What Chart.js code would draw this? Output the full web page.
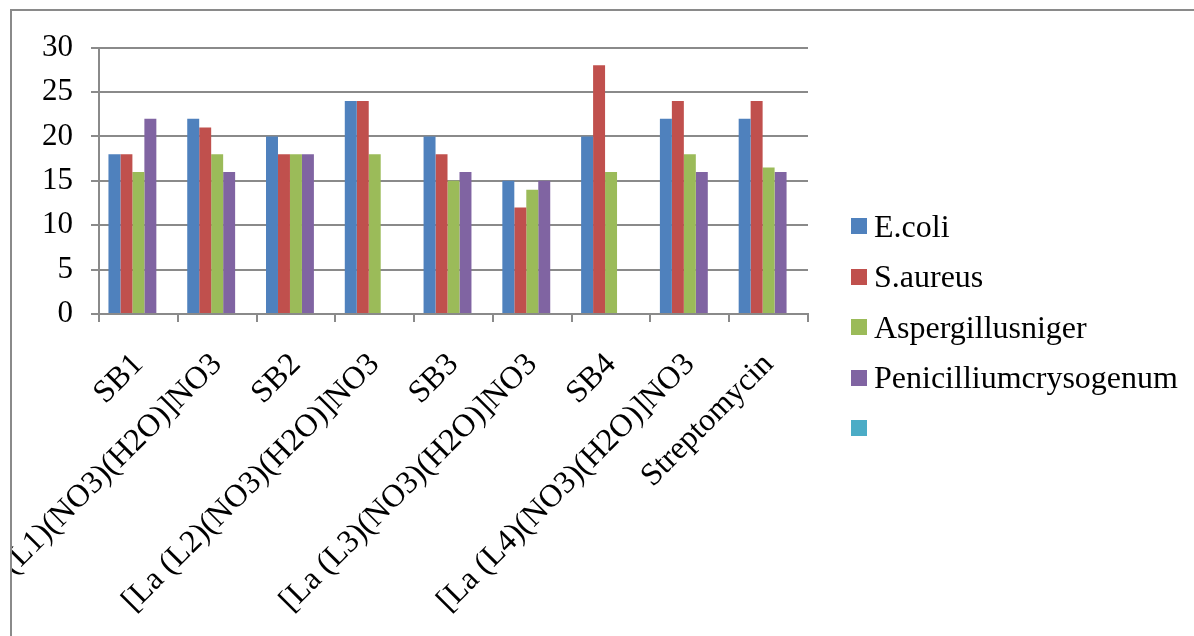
<!DOCTYPE html>
<html>
<head>
<meta charset="utf-8">
<script src="https://cdn.jsdelivr.net/npm/chart.js@4.4.1/dist/chart.umd.min.js"></script>
<style>
  html, body { margin: 0; background: #fff; overflow: hidden; }
  #frame { position: absolute; left: 10px; top: 9px; width: 1200px; height: 640px;
           border-top: 2px solid #8a8a8a; border-left: 2px solid #8a8a8a; }
  #wrap { position: absolute; left: 12px; top: 11px; width: 1182px; height: 625px; }
  #legend { position: absolute; left: 851px; top: 201px; margin: 0; padding: 0; list-style: none;
            font-family: 'Liberation Serif', 'Times New Roman', serif; font-size: 32px; color: #000; }
  #legend li { display: flex; align-items: center; height: 50.5px; white-space: nowrap; }
  #legend .box { width: 16px; height: 16px; margin-right: 7px; flex: none; }
</style>
</head>
<body>
<div id="frame"></div>
<div id="wrap"><canvas id="chart"></canvas></div>
<ul id="legend"></ul>
<script>
const categories = [
  "SB1", "[La (L1)(NO3)(H2O)]NO3", "SB2", "[La (L2)(NO3)(H2O)]NO3",
  "SB3", "[La (L3)(NO3)(H2O)]NO3", "SB4", "[La (L4)(NO3)(H2O)]NO3", "Streptomycin"
];
const ecoli       = [18, 22, 20, 24, 20, 15, 20, 22, 22];
const saureus     = [18, 21, 18, 24, 18, 12, 28, 24, 24];
const aspergillus = [16, 18, 18, 18, 15, 14, 16, 18, 16.5];
const penicillium = [22, 16, 18, null, 16, 15, null, 16, 16];
const blankSeries = [null, null, null, null, null, null, null, null, null];
const seriesNames = ["E.coli", "S.aureus", "Aspergillusniger", "Penicilliumcrysogenum", ""];
const yTicks = [0, 5, 10, 15, 20, 25, 30];

const colors = ["#4f81bd", "#c0504d", "#9bbb59", "#8064a2", "#4bacc6"];
const gridGrey = "#8a8a8a";

Chart.defaults.font.family = "'Liberation Serif', 'Times New Roman', serif";
Chart.defaults.color = "#000";

const seriesData = [ecoli, saureus, aspergillus, penicillium, blankSeries];
const datasets = seriesData.map((data, i) => ({
  label: seriesNames[i],
  data,
  backgroundColor: colors[i],
  borderWidth: 0,
  barPercentage: 1,
  categoryPercentage: 0.76
}));

const chart = new Chart(document.getElementById("chart"), {
  type: "bar",
  data: { labels: categories, datasets },
  options: {
    responsive: true,
    maintainAspectRatio: false,
    animation: false,
    layout: { padding: { top: 31, right: 386, left: 0, bottom: 0 } },
    plugins: {
      tooltip: { enabled: false },
      legend: { display: false }
    },
    scales: {
      x: {
        grid: { drawOnChartArea: false, drawTicks: true, tickLength: 8, color: gridGrey, lineWidth: 2 },
        border: { color: gridGrey, width: 2 },
        ticks: { autoSkip: false, minRotation: 45, maxRotation: 45, padding: 24, font: { size: 32 } },
        // keep the long first label from pushing the plot to the right
        afterFit: s => { s.height = 322; s.paddingLeft = 0; s.paddingRight = 0; }
      },
      y: {
        min: 0, max: 30,
        afterBuildTicks: s => { s.ticks = yTicks.map(v => ({ value: v })); },
        grid: { color: gridGrey, lineWidth: 2, tickLength: 8 },
        border: { color: gridGrey, width: 2 },
        ticks: { padding: 18, font: { size: 31 } },
        afterFit: s => { s.width = 87; }
      }
    }
  }
});

// legend as html, same names and colours as the datasets
const legend = document.getElementById("legend");
chart.data.datasets.forEach(ds => {
  const li = document.createElement("li");
  const box = document.createElement("span");
  box.className = "box";
  box.style.background = ds.backgroundColor;
  li.appendChild(box);
  li.appendChild(document.createTextNode(ds.label));
  legend.appendChild(li);
});
</script>
</body>
</html>
